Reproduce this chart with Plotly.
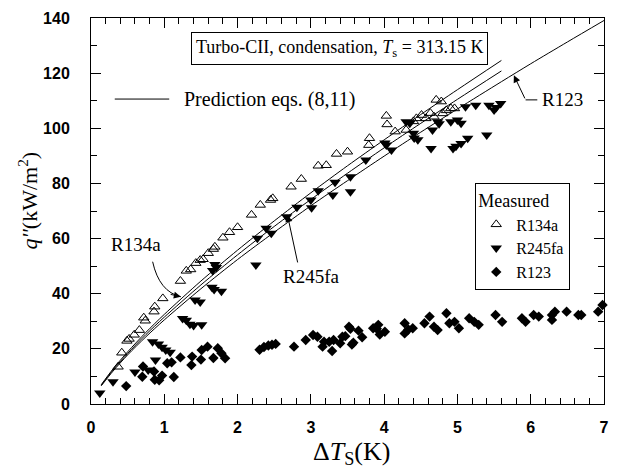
import plotly.graph_objects as go

# ---- measured data: condensation on Turbo-CII tube, Ts = 313.15 K ----
r134a_dt = [0.37, 0.42, 0.49, 0.52, 0.59, 0.66, 0.72, 0.74, 0.86, 0.87, 0.98,
            1.22, 1.30, 1.36, 1.43, 1.49, 1.53, 1.60, 1.67, 1.69, 1.80, 1.89,
            2.00, 2.19, 2.31, 2.45, 2.48, 2.73, 2.87, 3.10, 3.21, 3.35, 3.50,
            3.79, 3.80, 4.03, 4.04, 4.15, 4.30, 4.40, 4.44, 4.51, 4.57, 4.63,
            4.68, 4.71, 4.78, 4.80, 4.85, 4.91, 4.96]
r134a_q = [13.5, 18.6, 22.9, 23.6, 25.1, 26.8, 31.3, 30.2, 33.5, 35.3, 38.3,
           44.6, 48.3, 48.8, 51.1, 52.2, 52.5, 54.7, 56.2, 57.0, 60.3, 62.3,
           64.1, 68.6, 72.2, 74.0, 74.6, 78.8, 81.6, 86.4, 86.6, 90.7, 91.5,
           93.9, 96.4, 104.5, 101.4, 98.8, 99.4, 102.5, 103.6, 104.8, 103.6, 105.5,
           104.2, 110.3, 109.7, 105.4, 106.5, 107.2, 107.2]

r245fa_dt = [0.12, 0.30, 0.60, 0.78, 0.84, 0.88, 0.92, 0.97, 1.02, 1.08, 1.25,
             1.30, 1.35, 1.40, 1.51, 1.42, 1.49, 1.65, 1.68, 1.78, 1.66, 1.69,
             1.71, 2.25, 2.27, 2.39, 2.46, 2.67, 2.81, 3.00, 3.01, 3.10, 3.30,
             3.33, 3.54, 3.54, 3.75, 4.01, 4.03, 4.10, 4.30, 4.35, 4.40, 4.41,
             4.46, 4.64, 4.66, 4.73, 4.75, 4.91, 4.94, 4.98, 5.00, 5.05, 5.05,
             5.11, 5.14, 5.25, 5.40, 5.43, 5.50, 5.53, 5.59]
r245fa_q = [4.0, 8.1, 11.6, 12.3, 22.6, 16.0, 21.8, 20.6, 19.6, 18.8, 31.0,
            30.4, 28.9, 28.5, 28.7, 37.7, 37.0, 42.3, 41.5, 40.9, 48.4, 50.6,
            49.5, 50.4, 60.1, 63.7, 61.9, 67.9, 71.4, 74.0, 71.2, 77.3, 75.8,
            80.4, 82.4, 77.0, 88.5, 94.7, 93.9, 92.1, 102.4, 101.8, 98.2, 96.5,
            95.8, 92.7, 99.4, 102.4, 101.6, 102.4, 92.7, 93.5, 103.0, 101.8, 94.5,
            107.8, 96.4, 108.4, 97.6, 108.4, 106.6, 107.5, 109.0]

r123_dt = [0.48, 0.70, 0.71, 0.86, 0.87, 0.93, 0.97, 1.04, 1.10, 1.13, 1.22,
           1.37, 1.38, 1.50, 1.51, 1.59, 1.67, 1.73, 1.78, 1.83, 2.30, 2.36,
           2.42, 2.47, 2.52, 2.77, 2.93, 3.03, 3.09, 3.16, 3.18, 3.25, 3.29,
           3.31, 3.40, 3.43, 3.47, 3.52, 3.54, 3.56, 3.58, 3.65, 3.70, 3.85,
           3.90, 3.92, 3.94, 4.01, 4.28, 4.28, 4.33, 4.39, 4.55, 4.62, 4.68,
           4.73, 4.85, 4.89, 4.96, 5.02, 5.16, 5.23, 5.29, 5.52, 5.61, 5.88,
           5.93, 6.04, 6.11, 6.29, 6.33, 6.29, 6.49, 6.65, 6.69, 6.92, 6.98]
r123_q = [6.5, 9.9, 13.6, 11.8, 8.8, 8.6, 10.3, 14.8, 15.1, 9.8, 16.9,
          14.1, 17.2, 16.1, 19.6, 20.8, 16.7, 20.2, 18.4, 16.6, 19.7, 20.7,
          21.2, 21.5, 21.8, 20.8, 23.2, 25.0, 24.4, 20.8, 22.6, 22.6, 19.2,
          23.2, 22.0, 24.4, 24.6, 28.0, 27.3, 21.6, 22.2, 26.6, 24.2, 27.5,
          27.3, 28.7, 25.2, 26.2, 29.3, 25.6, 27.0, 27.5, 29.3, 31.7, 28.0,
          26.8, 32.9, 29.3, 29.8, 27.5, 31.1, 29.8, 28.7, 32.3, 29.8, 31.1,
          29.8, 32.3, 31.7, 32.3, 33.5, 30.5, 33.5, 32.3, 32.3, 33.5, 35.9]

# ---- prediction curves, eqs. (8,11) ----
pred_dt = [0.14, 0.3, 0.5, 0.75, 1.0, 1.5, 2.0, 2.5, 3.0, 3.5, 4.0, 4.5, 5.0, 5.6]
pred_r134a = [7.0, 12.7, 18.9, 26.0, 32.5, 44.6, 55.8, 66.4, 76.6, 86.4, 95.8, 105.0, 114.0, 124.6]
pred_r245fa = [6.8, 12.3, 18.3, 25.2, 31.5, 43.2, 54.1, 64.4, 74.2, 83.7, 92.9, 101.8, 110.5, 120.8]
pred_r123_dt = [0.14, 0.3, 0.5, 0.75, 1.0, 1.5, 2.0, 2.5, 3.0, 3.5, 4.0, 4.5, 5.0, 5.6, 6.0, 6.5, 7.0]
pred_r123 = [6.6, 11.9, 17.8, 24.4, 30.5, 41.8, 52.4, 62.3, 71.9, 81.0, 89.9, 98.6, 107.0, 116.9, 123.4, 131.3, 139.1]

x_ticks = [0, 1, 2, 3, 4, 5, 6, 7]
y_ticks = [0, 20, 40, 60, 80, 100, 120, 140]

SERIF = "Liberation Serif"
SANS = "Liberation Sans"

fig = go.Figure()

line_style = dict(color="black", width=1, shape="spline", smoothing=0.8)
for xs, ys in [(pred_dt, pred_r134a), (pred_dt, pred_r245fa), (pred_r123_dt, pred_r123)]:
    fig.add_trace(go.Scatter(x=xs, y=ys, mode="lines", line=line_style,
                             showlegend=False, hoverinfo="skip"))

fig.add_trace(go.Scatter(
    x=r134a_dt, y=r134a_q, mode="markers", name="R134a",
    marker=dict(symbol="triangle-up-open", size=9, color="black",
                line=dict(width=1, color="black"))))
fig.add_trace(go.Scatter(
    x=r245fa_dt, y=r245fa_q, mode="markers", name="R245fa",
    marker=dict(symbol="triangle-down", size=10, color="black", line=dict(width=0))))
fig.add_trace(go.Scatter(
    x=r123_dt, y=r123_q, mode="markers", name="R123", cliponaxis=False,
    marker=dict(symbol="diamond", size=8, color="black", line=dict(width=0))))

axis_common = dict(
    showline=True, linecolor="black", linewidth=1, mirror="ticks",
    ticks="inside", tickcolor="black", tickwidth=1, ticklen=10,
    showgrid=False, zeroline=False,
    tickfont=dict(family=SANS, size=16, color="black", weight="bold"),
)

fig.update_xaxes(range=[0, 7], tickvals=x_ticks, ticklabelstandoff=9,
                 minor=dict(dtick=0.2, ticks="inside", ticklen=6, tickcolor="black"),
                 **axis_common)
fig.update_yaxes(range=[0, 140], tickvals=y_ticks, ticklabelstandoff=17,
                 minor=dict(dtick=10, ticks="inside", ticklen=6, tickcolor="black"),
                 **axis_common)

shapes = [
    # legend sample line for the prediction curves
    dict(type="line", xref="paper", yref="paper", x0=0.0463, x1=0.1525, y0=0.790, y1=0.790,
         line=dict(color="black", width=1)),
    # R134a curved leader
    dict(type="path", xref="x", yref="y", path="M 0.841,51.6 Q 0.932,40.7 1.226,38.9",
         line=dict(color="black", width=1)),
    # R123 leader elbow
    dict(type="line", xref="x", yref="y", x0=5.93, x1=6.09, y0=110.3, y1=110.3,
         line=dict(color="black", width=1)),
]

ann_font = dict(family=SERIF, size=19, color="black")
mid = dict(xanchor="center", yanchor="middle")
annotations = [
    dict(xref="paper", yref="paper", x=0.4846, y=0.9197, showarrow=False,
         text="Turbo-CII, condensation, <i>T</i><sub>s</sub> = 313.15 K",
         font=dict(family=SERIF, size=18, color="black"),
         bordercolor="black", borderwidth=1, borderpad=4, bgcolor="white", **mid),
    dict(xref="paper", yref="paper", x=0.1776, y=0.790, xanchor="left", yanchor="middle",
         showarrow=False, text="Prediction eqs. (8,11)",
         font=dict(family=SERIF, size=20, color="black")),
    dict(xref="x", yref="y", x=6.12, y=110.3, xanchor="left", yanchor="middle",
         showarrow=False, text="R123", font=ann_font),
    dict(xref="x", yref="y", x=5.77, y=119.2, axref="x", ayref="y", ax=5.93, ay=110.3,
         text="", showarrow=True, arrowhead=2, arrowsize=1.4, arrowwidth=1, arrowcolor="black"),
    dict(xref="x", yref="y", x=0.608, y=57.7, showarrow=False, text="R134a", font=ann_font, **mid),
    dict(xref="x", yref="y", x=1.226, y=38.9, ax=-11.7, ay=-2.7,
         text="", showarrow=True, arrowhead=2, arrowsize=1.4, arrowwidth=1, arrowcolor="black"),
    dict(xref="x", yref="y", x=3.014, y=46.1, showarrow=False, text="R245fa", font=ann_font, **mid),
    dict(xref="x", yref="y", x=2.68, y=68.6, axref="x", ayref="y", ax=2.824, ay=50.8,
         text="", showarrow=True, arrowhead=2, arrowsize=1.4, arrowwidth=1, arrowcolor="black"),
    # axis titles
    dict(xref="paper", yref="paper", x=0.507, y=-0.126, showarrow=False,
         text="Δ<i>T</i><sub>S</sub>(K)", font=dict(family=SERIF, size=26, color="black"), **mid),
    dict(xref="paper", yref="paper", x=-0.122, y=0.528, showarrow=False, textangle=-90,
         text="<i>q''</i>(kW/m<sup>2</sup>)", font=dict(family=SERIF, size=22, color="black"), **mid),
]

fig.update_layout(
    width=618, height=470,
    margin=dict(l=91, r=9, t=18, b=66),
    paper_bgcolor="white", plot_bgcolor="white",
    shapes=shapes, annotations=annotations,
    legend=dict(
        x=0.749, y=0.5725, xanchor="left", yanchor="top",
        bordercolor="black", borderwidth=1, bgcolor="white",
        title=dict(text="Measured", font=dict(family=SERIF, size=18, color="black")),
        font=dict(family=SERIF, size=16, color="black"),
        tracegroupgap=0, itemwidth=30,
    ),
)

fig.write_html("out.html")
